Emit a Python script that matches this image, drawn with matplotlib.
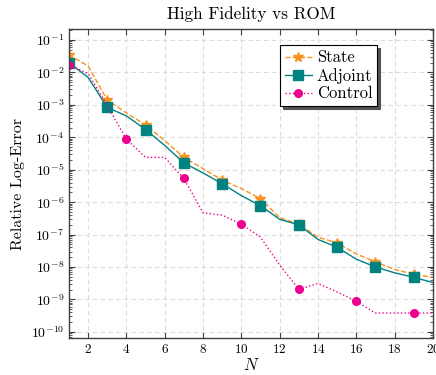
import numpy as np
import matplotlib
matplotlib.use("Agg")
import matplotlib.pyplot as plt
from matplotlib.ticker import LogLocator, NullFormatter

plt.rcParams['font.family'] = ['cmr10', 'DejaVu Serif']
plt.rcParams['mathtext.fontset'] = 'cm'
plt.rcParams['axes.formatter.use_mathtext'] = True

# reduced basis size
N = np.arange(1, 21)

# log10 of the relative errors
state_log = [-1.46, -1.80, -2.85, -3.25, -3.62, -4.10, -4.62, -4.97, -5.32, -5.58,
             -5.89, -6.48, -6.68, -7.08, -7.26, -7.60, -7.84, -8.08, -8.22, -8.32]
adjoint_log = [-1.70, -2.15, -3.08, -3.34, -3.76, -4.25, -4.79, -5.10, -5.43, -5.80,
               -6.11, -6.53, -6.70, -7.15, -7.39, -7.76, -8.00, -8.18, -8.32, -8.48]
control_log = [-1.77, -2.03, -3.02, -4.06, -4.62, -4.62, -5.27, -6.33, -6.40, -6.68,
               -7.08, -7.94, -8.69, -8.51, -8.77, -9.06, -9.42, -9.42, -9.42, -9.42]

state = 10.0 ** np.array(state_log)
adjoint = 10.0 ** np.array(adjoint_log)
control = 10.0 ** np.array(control_log)

c_state = '#f7931e'
c_adj = '#00827f'
c_ctrl = '#ec008c'

fig = plt.figure(figsize=(4.36, 3.75), dpi=100)
ax = fig.add_axes([0.158, 0.0987, 0.835, 0.824])

ax.semilogy(N, state, ls='--', color=c_state, lw=1.0, marker='*', ms=7,
            markevery=slice(0, None, 2), label='State')
ax.semilogy(N, adjoint, ls='-', color=c_adj, lw=1.0, marker='s', ms=6.5,
            markevery=slice(0, None, 2), label='Adjoint')
ax.semilogy(N, control, ls=':', color=c_ctrl, lw=1.0, marker='o', ms=5.5,
            markevery=slice(0, None, 3), label='Control')

ax.set_xlim(1, 20)
ax.set_ylim(10 ** -10.19, 10 ** -0.66)
ax.set_xticks(np.arange(2, 21, 2))
ax.yaxis.set_major_locator(LogLocator(base=10, numticks=20))
ax.yaxis.set_minor_locator(LogLocator(base=10, subs=np.arange(2, 10), numticks=20))
ax.yaxis.set_minor_formatter(NullFormatter())

ax.grid(True, which='major', ls=(0, (4, 3)), color='#dcdcdc', lw=0.8)
ax.tick_params(which='both', direction='in', top=True, right=True, color='#404040')
ax.tick_params(which='major', length=4, labelsize=10)
ax.tick_params(which='minor', length=2.2)
ax.tick_params(axis='x', labelsize=9.5)
for s in ax.spines.values():
    s.set_color('#404040')
    s.set_linewidth(1.0)

ax.set_title('High Fidelity vs ROM', fontsize=12.3, pad=7)
ax.set_xlabel('$N$', fontsize=12, labelpad=1)
ax.set_ylabel('Relative Log-Error', fontsize=11.5, labelpad=4)

leg = ax.legend(loc='upper left', bbox_to_anchor=(0.58, 0.948), fontsize=12,
                fancybox=False, shadow={'color': '#555555', 'alpha': 1.0},
                edgecolor='black', framealpha=1.0, borderpad=0.3,
                labelspacing=0.15, handlelength=1.6, handletextpad=0.3,
                borderaxespad=0)
leg.get_frame().set_linewidth(0.8)

fig.savefig('out.png', dpi=100)
